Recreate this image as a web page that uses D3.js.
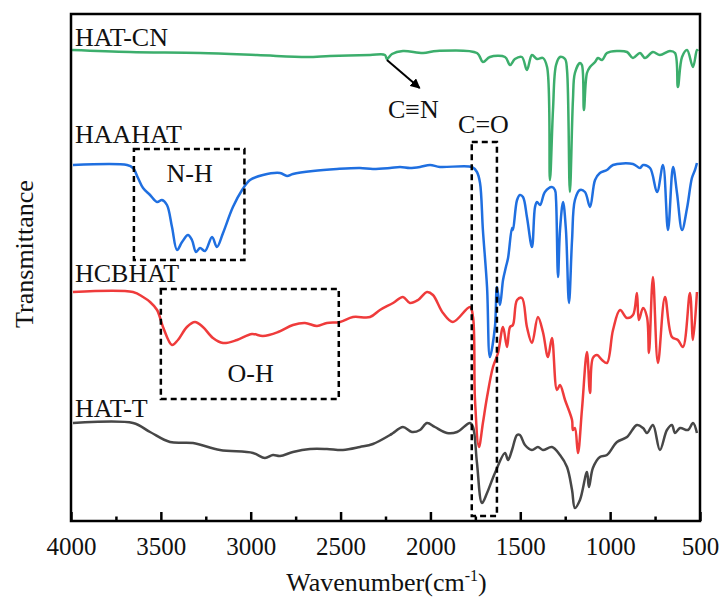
<!DOCTYPE html>
<html>
<head>
<meta charset="utf-8">
<script src="https://cdn.jsdelivr.net/npm/d3@7"></script>
<style>
  body { margin: 0; background: #fff; }
</style>
</head>
<body>
<svg id="chart" width="720" height="604"></svg>
<script>
// FTIR spectra, [wavenumber (cm-1), offset transmittance (a.u.)]
const hatCN = [
  [3994, 471], [3672, 469], [3282, 468], [2965, 466], [2687, 464], [2559, 465], [2336, 466],
  [2253, 466], [2242, 462], [2214, 467], [2153, 470], [2041, 468], [1964, 470], [1741, 468],
  [1708, 459], [1669, 464], [1585, 464], [1557, 456], [1530, 462], [1491, 464], [1463, 451],
  [1435, 466], [1407, 462], [1374, 463], [1351, 454], [1335, 341], [1318, 411], [1301, 456],
  [1279, 464], [1251, 462], [1240, 451], [1224, 329], [1207, 421], [1196, 448], [1168, 458],
  [1157, 456], [1146, 411], [1129, 448], [1112, 454], [1084, 459], [1068, 463], [1045, 461],
  [1018, 468], [962, 470], [906, 469], [873, 463], [834, 468], [806, 463], [762, 469],
  [723, 466], [667, 470], [639, 468], [623, 434], [600, 464], [572, 471], [539, 454],
  [517, 471], [511, 470]
];
const haahat = [
  [3989, 356], [3688, 356], [3655, 353], [3627, 343], [3599, 333], [3560, 326], [3521, 319],
  [3494, 321], [3466, 316], [3438, 294], [3410, 271], [3382, 279], [3349, 286], [3327, 281],
  [3304, 269], [3282, 273], [3254, 270], [3215, 284], [3188, 274], [3154, 288], [3099, 314],
  [3048, 331], [3004, 341], [2932, 346], [2837, 348], [2798, 345], [2765, 347], [2654, 350],
  [2520, 352], [2392, 353], [2320, 352], [2225, 353], [2169, 354], [2114, 353], [2058, 354],
  [2002, 356], [1947, 354], [1769, 354], [1741, 349], [1724, 338], [1708, 291], [1685, 234],
  [1669, 164], [1641, 194], [1630, 234], [1613, 216], [1596, 241], [1580, 254], [1568, 263],
  [1546, 293], [1541, 291], [1518, 321], [1502, 326], [1485, 324], [1463, 304], [1435, 274],
  [1418, 314], [1407, 319], [1390, 316], [1363, 329], [1324, 334], [1307, 331], [1301, 321],
  [1290, 244], [1279, 291], [1262, 319], [1246, 291], [1229, 218], [1212, 281], [1196, 321],
  [1168, 331], [1140, 329], [1112, 314], [1084, 341], [1057, 348], [1018, 351], [984, 356],
  [873, 357], [834, 353], [817, 356], [778, 353], [739, 329], [706, 356], [678, 291],
  [650, 354], [628, 328], [600, 291], [572, 313], [545, 343], [528, 351], [517, 358]
];
const hcbhat = [
  [3989, 229], [3655, 229], [3599, 224], [3560, 219], [3521, 211], [3488, 194], [3438, 176],
  [3405, 181], [3355, 194], [3310, 199], [3266, 194], [3210, 183], [3154, 178], [3076, 181],
  [2993, 187], [2932, 185], [2848, 189], [2765, 196], [2698, 198], [2631, 195], [2576, 198],
  [2503, 199], [2431, 204], [2336, 204], [2281, 211], [2208, 218], [2153, 224], [2114, 218],
  [2069, 221], [2019, 229], [1986, 226], [1930, 208], [1875, 199], [1780, 214], [1763, 204],
  [1752, 121], [1730, 74], [1708, 98], [1685, 124], [1652, 154], [1624, 168], [1596, 194],
  [1574, 174], [1557, 194], [1541, 196], [1518, 221], [1491, 223], [1463, 194], [1435, 178],
  [1402, 204], [1374, 189], [1346, 164], [1324, 183], [1296, 131], [1279, 136], [1251, 121],
  [1212, 101], [1207, 91], [1196, 93], [1179, 68], [1157, 111], [1129, 169], [1112, 128],
  [1096, 163], [1073, 166], [1045, 161], [1018, 158], [984, 191], [945, 211], [906, 203],
  [873, 206], [851, 228], [840, 201], [817, 213], [795, 204], [784, 168], [762, 244],
  [734, 158], [695, 224], [656, 184], [623, 181], [595, 174], [556, 228], [539, 181],
  [517, 229]
];
const hatT = [
  [3989, 98], [3655, 98], [3560, 89], [3449, 79], [3321, 78], [3171, 71], [2987, 68],
  [2921, 63], [2876, 66], [2837, 65], [2765, 69], [2670, 72], [2576, 72], [2487, 71],
  [2392, 74], [2320, 77], [2225, 86], [2208, 88], [2153, 94], [2103, 89], [2058, 91],
  [2019, 98], [1975, 94], [1908, 88], [1852, 89], [1780, 98], [1763, 94], [1741, 58],
  [1713, 18], [1685, 28], [1641, 48], [1585, 68], [1568, 61], [1546, 71], [1518, 86],
  [1502, 86], [1474, 76], [1435, 71], [1402, 74], [1374, 71], [1324, 74], [1279, 66],
  [1240, 54], [1212, 31], [1196, 13], [1168, 21], [1129, 49], [1118, 34], [1096, 53],
  [1057, 64], [1018, 66], [962, 79], [906, 84], [851, 96], [817, 93], [795, 88],
  [762, 96], [723, 71], [684, 91], [656, 96], [639, 88], [611, 93], [567, 91],
  [539, 98], [517, 88]
];

const seriesNames = ["HAT-CN", "HAAHAT", "HCBHAT", "HAT-T"];
const seriesColors = ["#3cae6c", "#1f6fe0", "#ef3b3b", "#474747"];
const seriesLabelY = [475, 378, 239, 104];   // label baseline in data units

const majorTicks = [4000, 3500, 3000, 2500, 2000, 1500, 1000, 500];
const minorTicks = [3750, 3250, 2750, 2250, 1750, 1250, 750];

// annotation boxes, [w-left, w-right, t-top, t-bottom]
const boxNH = [3650, 3035, 372, 261];
const boxOH = [3500, 2510, 232, 122];
const boxCO = [1770, 1630, 379, 5];

const FONT = "'Times New Roman', 'Liberation Serif', Tinos, 'DejaVu Serif', serif";

const svg = d3.select("#chart").style("font-family", FONT);
const margin = { left: 71, right: 20, top: 14, bottom: 83 };
const W = 720, H = 604;

const x = d3.scaleLinear().domain([4000, 500]).range([margin.left, W - margin.right]);
const y = d3.scaleLinear().domain([0, 507]).range([H - margin.bottom, margin.top]);

function label(sel) {
  return sel.style("font-family", FONT).attr("fill", "#111");
}

// spectra
const line = d3.line()
  .x(d => x(d[0]))
  .y(d => y(d[1]))
  .curve(d3.curveCatmullRom.alpha(0.5));

[hatCN, haahat, hcbhat, hatT].forEach((s, i) => {
  svg.append("path")
    .datum(s)
    .attr("d", line)
    .attr("fill", "none")
    .attr("stroke", seriesColors[i])
    .attr("stroke-width", 2.5)
    .attr("stroke-linejoin", "round");
});

// dashed boxes
function box(b) {
  svg.append("rect")
    .attr("x", x(b[0]))
    .attr("y", y(b[2]))
    .attr("width", x(b[1]) - x(b[0]))
    .attr("height", y(b[3]) - y(b[2]))
    .attr("fill", "none")
    .attr("stroke", "#000")
    .attr("stroke-width", 2.5)
    .attr("stroke-dasharray", "6,4");
}
box(boxNH);
box(boxOH);
box(boxCO);

// series labels
seriesNames.forEach((n, i) => {
  svg.append("text")
    .attr("x", margin.left + 4)
    .attr("y", y(seriesLabelY[i]))
    .attr("font-size", 26)
    .call(label)
    .text(n);
});

// annotations
svg.append("defs").append("marker")
  .attr("id", "arrow")
  .attr("viewBox", "0 0 10 10")
  .attr("refX", 9).attr("refY", 5)
  .attr("markerWidth", 5).attr("markerHeight", 5)
  .attr("orient", "auto")
  .append("path")
  .attr("d", "M0,0 L10,5 L0,10 Z")
  .attr("fill", "#000");

svg.append("line")
  .attr("x1", x(2242)).attr("y1", y(461))
  .attr("x2", x(2060)).attr("y2", y(433))
  .attr("stroke", "#000")
  .attr("stroke-width", 2)
  .attr("marker-end", "url(#arrow)");

const notes = [
  ["C\u2261N", 2095, 403],
  ["C=O", 1705, 388],
  ["N-H", 3340, 339],
  ["O-H", 3000, 139]
];
notes.forEach(n => {
  svg.append("text")
    .attr("x", x(n[1])).attr("y", y(n[2]))
    .attr("text-anchor", "middle").attr("font-size", 26)
    .call(label)
    .text(n[0]);
});

// axes
const gx = svg.append("g")
  .attr("transform", `translate(0,${H - margin.bottom})`)
  .call(d3.axisBottom(x).tickValues(majorTicks).tickSize(-9).tickPadding(16).tickFormat(d3.format("d")));
gx.attr("font-family", null);
gx.select(".domain").remove();
gx.selectAll(".tick line").attr("stroke", "#000").attr("stroke-width", 2.5);
gx.selectAll("text").attr("font-size", 25).call(label);

const gm = svg.append("g")
  .attr("transform", `translate(0,${H - margin.bottom})`)
  .call(d3.axisBottom(x).tickValues(minorTicks).tickSize(-4.5).tickFormat(""));
gm.select(".domain").remove();
gm.selectAll(".tick line").attr("stroke", "#000").attr("stroke-width", 2.5);

// frame
svg.append("rect")
  .attr("x", margin.left)
  .attr("y", margin.top)
  .attr("width", W - margin.left - margin.right)
  .attr("height", H - margin.top - margin.bottom)
  .attr("fill", "none")
  .attr("stroke", "#000")
  .attr("stroke-width", 2.5);

// axis titles
const xt = svg.append("text")
  .attr("x", (margin.left + W - margin.right) / 2 + 1)
  .attr("y", 591)
  .attr("text-anchor", "middle")
  .attr("font-size", 26)
  .call(label);
xt.append("tspan").text("Wavenumber(cm");
xt.append("tspan").attr("font-size", 16).attr("dy", -10).text("-1");
xt.append("tspan").attr("dy", 10).text(")");

svg.append("text")
  .attr("transform", "translate(33,254) rotate(-90)")
  .attr("text-anchor", "middle")
  .attr("font-size", 26)
  .call(label)
  .text("Transmittance");
</script>
</body>
</html>
